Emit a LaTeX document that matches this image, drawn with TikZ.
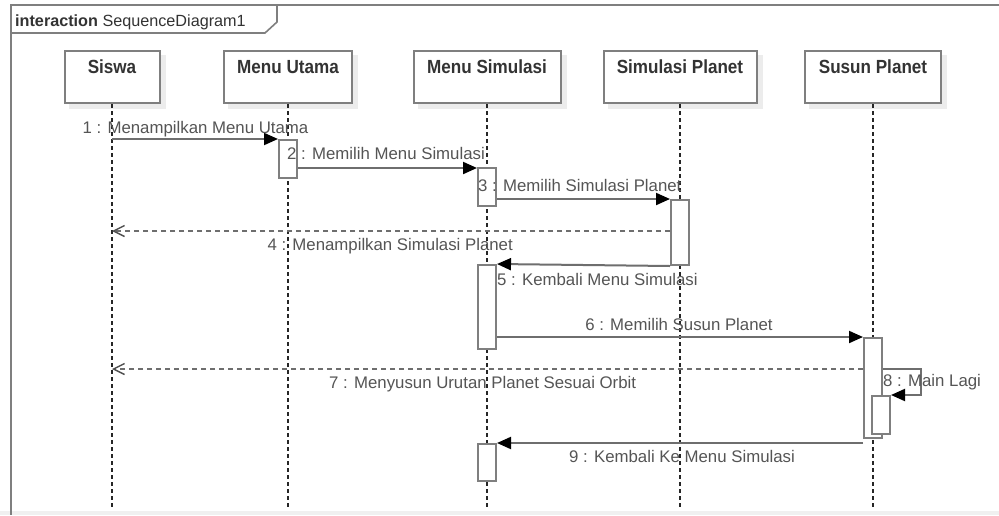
\documentclass[tikz,border=0pt]{standalone}
\usepackage{fontspec}
\setmainfont{Liberation Sans}
\newfontfamily\headfont{Liberation Sans}[FakeStretch=0.9]
\usetikzlibrary{arrows.meta,backgrounds}
\definecolor{edgec}{HTML}{7F7F7F}
\definecolor{msgc}{HTML}{6E6E6E}
\definecolor{txtc}{HTML}{555555}
\definecolor{hdrc}{HTML}{333333}
\definecolor{shadc}{HTML}{ECECEC}
\tikzset{
  lifebox/.style={draw=edgec, line width=2pt, fill=white, minimum height=52pt, inner sep=0pt},
  hdr/.style={anchor=base, inner sep=0pt, text=hdrc, font=\headfont\bfseries\fontsize{19}{22}\selectfont},
  lifeline/.style={draw=black!85, line width=1.3pt, dash pattern=on 4pt off 3pt},
  actbox/.style={draw=edgec, line width=2pt, fill=white, minimum width=18pt, inner sep=0pt, anchor=north},
  msg/.style={draw=msgc, line width=2pt, -{Triangle[length=14pt,width=12pt,fill=black,color=black]}},
  ret/.style={draw=msgc, line width=1.8pt, dash pattern=on 5pt off 4pt,
    -{Straight Barb[length=11pt,width=11pt,line width=1.4pt,color=msgc!70!black]}},
  lbl/.style={anchor=base, inner sep=0pt, text=txtc, font=\fontsize{16.8}{20}\selectfont},
}
\begin{document}
\begin{tikzpicture}[x=1pt,y=-1pt]
\useasboundingbox (0,0) rectangle (999,515);

% interaction frame and its name tab
\draw[edgec, line width=2pt] (999,5) -- (11,5) -- (11,515);
\draw[edgec, line width=1.6pt] (11,33) -- (265,33) -- (277,22) -- (277,5);
\node[anchor=base west, inner sep=0pt, text=hdrc, font=\fontsize{16.2}{19}\selectfont] (title) at (15,26)
  {\textbf{interaction} SequenceDiagram1};

% lifeline heads
\node[lifebox, minimum width=95pt]  (siswa) at (112,77) {};
\node[lifebox, minimum width=128pt] (mu)    at (288,77) {};
\node[lifebox, minimum width=147pt] (ms)    at (487,77) {};
\node[lifebox, minimum width=153pt] (sp)    at (680,77) {};
\node[lifebox, minimum width=136pt] (su)    at (873,77) {};
\node[hdr] (siswaT) at ([yshift=-23pt]siswa.north) {Siswa};
\node[hdr] (muT)    at ([yshift=-23pt]mu.north) {Menu Utama};
\node[hdr] (msT)    at ([yshift=-23pt]ms.north) {Menu Simulasi};
\node[hdr] (spT)    at ([yshift=-23pt]sp.north) {Simulasi Planet};
\node[hdr] (suT)    at ([yshift=-23pt]su.north) {Susun Planet};

% page background, bottom strip and soft shadows behind the heads
\begin{scope}[on background layer]
  \fill[white] (0,0) rectangle (999,515);
  \fill[black!6] (0,511) rectangle (999,515);
  \foreach \n in {siswa,mu,ms,sp,su}
    \fill[shadc] ([shift={(5,5)}]\n.north west) rectangle ([shift={(5,5)}]\n.south east);
\end{scope}

% lifeline ends
\coordinate (bottom) at (0,508);
\foreach \n in {siswa,mu,ms,sp,su}
  \draw[lifeline] (\n.south) -- (\n.south |- bottom);

% message rows
\coordinate (y1) at (0,139);
\coordinate (y2) at (0,168);
\coordinate (y3) at (0,199);
\coordinate (y4) at (0,231);
\coordinate (y5) at (0,264);
\coordinate (y6) at (0,337);
\coordinate (y7) at (0,369);
\coordinate (y8) at (0,395);
\coordinate (y9) at (0,443);
\coordinate (x8) at (921,0);

% activation bars
\node[actbox, minimum height=38pt]  (aMU)  at (mu.south |- y1) {};
\node[actbox, minimum height=38pt]  (aMS1) at ([yshift=1pt]ms.south |- y2) {};
\node[actbox, minimum height=65pt]  (aSP)  at (sp.south |- y3) {};
\node[actbox, minimum height=84pt]  (aMS2) at (ms.south |- y5) {};
\node[actbox, minimum height=100pt] (aSU)  at (su.south |- y6) {};
\node[actbox, minimum height=38pt]  (aSU2) at ([xshift=8pt]su.south |- y8) {};
\node[actbox, minimum height=37pt]  (aMS3) at (ms.south |- y9) {};

% messages
\draw[msg] (siswa.south |- y1) -- (aMU.north west);
\draw[msg] (aMU.east |- y2) -- (aMS1.west |- y2);
\draw[msg] (aMS1.east |- y3) -- (aSP.north west);
\draw[ret] (aSP.west |- y4) -- (siswa.south |- y4);
\draw[msg] (aSP.south west) -- (aMS2.north east);
\draw[msg] (aMS2.east |- y6) -- (aSU.north west);
\draw[ret] (aSU.west |- y7) -- (siswa.south |- y7);
\draw[msg] (aSU.east |- y7) -- (x8 |- y7) -- (x8 |- aSU2.north) -- (aSU2.north east);
\draw[msg] (aSU.west |- y9) -- (aMS3.north east);

% message labels
\node[lbl] (l1) at (195.5,133) {1 : Menampilkan Menu Utama};
\node[lbl, anchor=base west] (l2) at (287,159) {2 : Memilih Menu Simulasi};
\node[lbl, anchor=base west] (l3) at (478,191) {3 : Memilih Simulasi Planet};
\node[lbl, anchor=base east] (l4) at (513,250) {4 : Menampilkan Simulasi Planet};
\node[lbl, anchor=base west] (l5) at (497,285) {5 : Kembali Menu Simulasi};
\node[lbl] (l6) at (679,330) {6 : Memilih Susun Planet};
\node[lbl, anchor=base west] (l7) at (329,388) {7 : Menyusun Urutan Planet Sesuai Orbit};
\node[lbl, anchor=base west] (l8) at (883,386) {8 : Main Lagi};
\node[lbl, anchor=base west] (l9) at (569,462) {9 : Kembali Ke Menu Simulasi};
\end{tikzpicture}
\end{document}
